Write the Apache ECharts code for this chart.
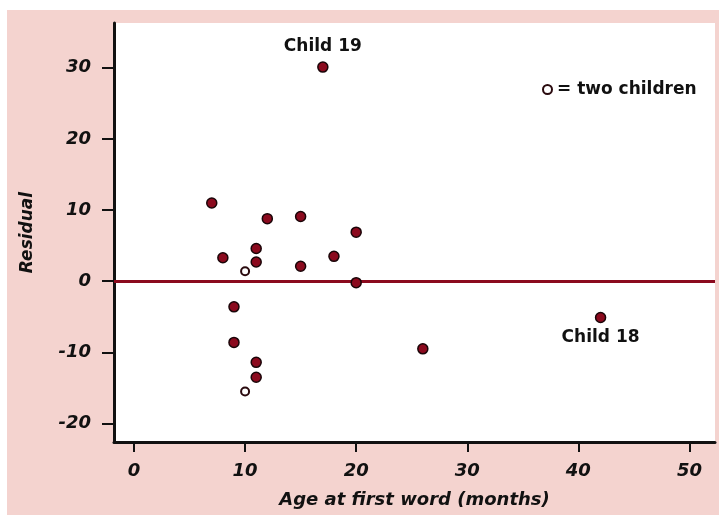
<!DOCTYPE html>
<html>
<head>
<meta charset="utf-8">
<script src="https://cdn.jsdelivr.net/npm/echarts@6/dist/echarts.min.js"></script>
<style>
html,body{margin:0;padding:0;background:#fff;}
#chart{width:719px;height:515px;}
</style>
</head>
<body>
<div id="chart"></div>
<script>
// Single-child points
const ages = [15, 26, 9, 15, 20, 18, 11, 8, 20, 7, 9, 11, 12, 42, 17, 11, 11];
const residuals = [2.1, -9.5, -8.6, 9.1, -0.2, 3.5, 2.7, 3.3, 6.9, 11.0, -3.6, 4.6, 8.8, -5.1, 30.1, -11.4, -13.5];
const pointLabels = ['', '', '', '', '', '', '', '', '', '', '', '', '', 'Child 18', 'Child 19', '', ''];
const labelPlacement = ['', '', '', '', '', '', '', '', '', '', '', '', '', 'bottom', 'top', '', ''];
// Points representing two children
const agesTwo = [10, 10];
const residualsTwo = [1.4, -15.5];
const xTicks = [0, 10, 20, 30, 40, 50];
const yTicks = [-20, -10, 0, 10, 20, 30];
const legendText = '= two children';
const xTitle = 'Age at first word (months)';
const yTitle = 'Residual';

const FONT = 'DejaVu Sans';
const RED = '#8b0a1e';

const singleData = ages.map((a, i) => {
  const d = {value: [a, residuals[i]], name: pointLabels[i]};
  if (labelPlacement[i]) d.label = {position: labelPlacement[i], distance: 6};
  return d;
});
const twoData = agesTwo.map((a, i) => [a, residualsTwo[i]]);

const chart = echarts.init(document.getElementById('chart'), null, {renderer: 'canvas'});
chart.setOption({
  backgroundColor: '#ffffff',
  animation: false,
  graphic: [{
    type: 'rect', z: -100, silent: true,
    shape: {x: 7, y: 10, width: 712, height: 505},
    style: {fill: '#f4d3cf'}
  }],
  grid: {
    left: 114, top: 23, right: 4, bottom: 73,
    show: true, backgroundColor: '#ffffff', borderWidth: 0
  },
  legend: {
    data: [legendText],
    left: 537, top: 76,
    icon: 'circle', itemWidth: 9, itemHeight: 9, itemGap: 6,
    textStyle: {fontFamily: FONT, fontWeight: 'bold', fontSize: 17, color: '#111'}
  },
  xAxis: {
    type: 'value', min: -1.8, max: 52.3,
    splitLine: {show: false},
    axisLine: {show: true, onZero: false, lineStyle: {color: '#111', width: 3}},
    axisTick: {show: true, customValues: xTicks, length: 10, lineStyle: {color: '#111', width: 2}},
    axisLabel: {customValues: xTicks, margin: 20, fontFamily: FONT, fontWeight: 'bold', fontStyle: 'italic', fontSize: 18, color: '#111'},
    name: xTitle, nameLocation: 'middle', nameGap: 49,
    nameTextStyle: {fontFamily: FONT, fontWeight: 'bold', fontStyle: 'italic', fontSize: 18, color: '#111'}
  },
  yAxis: {
    type: 'value', min: -22.6, max: 36.3,
    splitLine: {show: false},
    axisLine: {show: true, onZero: false, lineStyle: {color: '#111', width: 3}},
    axisTick: {show: true, customValues: yTicks, length: 12, lineStyle: {color: '#111', width: 2}},
    axisLabel: {customValues: yTicks, margin: 23, fontFamily: FONT, fontWeight: 'bold', fontStyle: 'italic', fontSize: 18, color: '#111'},
    name: yTitle, nameLocation: 'middle', nameGap: 78, nameRotate: 90,
    nameTextStyle: {fontFamily: FONT, fontWeight: 'bold', fontStyle: 'italic', fontSize: 17, color: '#111'}
  },
  series: [{
    name: 'one child', type: 'scatter', data: singleData,
    symbolSize: 10,
    itemStyle: {color: RED, borderColor: '#1a0508', borderWidth: 1.5, opacity: 1},
    label: {
      show: true,
      formatter: p => p.name,
      position: 'top', distance: 6,
      fontFamily: FONT, fontWeight: 'bold', fontSize: 17, color: '#111'
    },
    emphasis: {disabled: true},
    markLine: {
      silent: true, symbol: 'none',
      label: {show: false},
      lineStyle: {color: RED, width: 3, type: 'solid'},
      data: [{yAxis: 0}],
      z: 1
    },
    z: 5
  }, {
    name: legendText, type: 'scatter', data: twoData,
    symbolSize: 8,
    itemStyle: {color: '#ffffff', borderColor: '#2a0a0e', borderWidth: 2, opacity: 1},
    emphasis: {disabled: true},
    z: 5
  }]
});
</script>
</body>
</html>
